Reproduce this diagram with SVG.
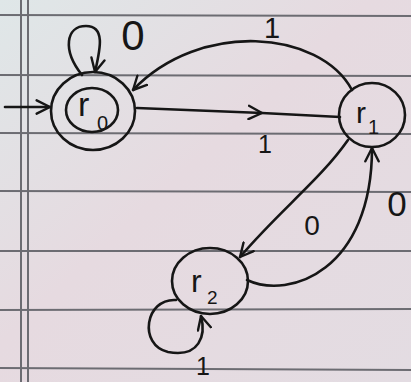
<svg xmlns="http://www.w3.org/2000/svg" width="411" height="382" viewBox="0 0 411 382">
<defs>
<linearGradient id="paper" x1="0" y1="0" x2="1" y2="1">
<stop offset="0" stop-color="#dfe7e8"/>
<stop offset="0.45" stop-color="#e6dae0"/>
<stop offset="1" stop-color="#e3dce2"/>
</linearGradient>
<marker id="v" viewBox="0 0 12 12" refX="11" refY="6" markerWidth="16" markerHeight="16" markerUnits="userSpaceOnUse" orient="auto">
<path d="M1,1 L11,6 L1,11" fill="none" stroke="#161616" stroke-width="1.8" stroke-linecap="round" stroke-linejoin="round"/>
</marker>
</defs>
<style>
.rule{stroke:#6c6c72;stroke-width:2;fill:none}
.edge{stroke:#161616;stroke-width:2.6;fill:none;stroke-linecap:round}
.ring{stroke:#161616;stroke-width:2.6;fill:none}
.lbl{font-family:"Liberation Sans","DejaVu Sans",sans-serif;fill:#161616;text-anchor:middle}
.nm{font-family:"Liberation Sans","DejaVu Sans",sans-serif;fill:#161616}
</style>
<rect width="411" height="382" fill="url(#paper)"/>
<g id="paper-lines">
<line class="rule" x1="0" y1="15" x2="411" y2="16"/>
<line class="rule" x1="0" y1="75" x2="411" y2="76"/>
<line class="rule" x1="0" y1="133" x2="411" y2="134"/>
<line class="rule" x1="0" y1="191" x2="411" y2="192"/>
<line class="rule" x1="0" y1="251" x2="411" y2="251"/>
<line class="rule" x1="0" y1="310" x2="411" y2="309"/>
<line class="rule" x1="0" y1="368" x2="411" y2="370"/>
<line class="rule" x1="21" y1="0" x2="21" y2="382"/>
<line class="rule" x1="28" y1="0" x2="28" y2="382"/>
</g>
<g id="connectors">
<path class="edge" d="M5,107 L50,107" marker-end="url(#v)"/>
<path class="edge" d="M82,75 C62,50 66,26 86,26 C106,26 100,50 95,72" marker-end="url(#v)"/>
<path class="edge" d="M352,90 C320,30 200,20 133,90" marker-end="url(#v)"/>
<path class="edge" d="M137,108 L262,113 L340,117" marker-mid="url(#v)"/>
<path class="edge" d="M348,140 C320,180 280,210 240,257" marker-end="url(#v)"/>
<path class="edge" d="M247,280 C290,300 372,270 372,148" marker-end="url(#v)"/>
<path class="edge" d="M176,300 C145,298 138,345 168,352 C200,358 206,335 201,316" marker-end="url(#v)"/>
</g>
<g id="r0">
<ellipse class="ring" cx="93" cy="111" rx="42" ry="39"/>
<ellipse class="ring" cx="92" cy="110" rx="26" ry="22"/>
<text class="nm" x="78" y="116" font-size="34">r</text>
<text class="nm" x="97" y="130" font-size="20">0</text>
</g>
<g id="r1">
<ellipse class="ring" cx="372" cy="115" rx="33" ry="32"/>
<text class="nm" x="356" y="123" font-size="30">r</text>
<text class="nm" x="368" y="134" font-size="20">1</text>
</g>
<g id="r2">
<ellipse class="ring" cx="210" cy="281" rx="38" ry="33"/>
<text class="nm" x="191" y="292" font-size="32">r</text>
<text class="nm" x="207" y="304" font-size="19">2</text>
</g>
<g id="labels">
<text class="lbl" x="133" y="50" font-size="42">0</text>
<text class="lbl" x="272" y="38" font-size="29">1</text>
<text class="lbl" x="265" y="153" font-size="25">1</text>
<text class="lbl" x="312" y="235" font-size="28">0</text>
<text class="lbl" x="397" y="216" font-size="35">0</text>
<text class="lbl" x="203" y="375" font-size="25">1</text>
</g>
</svg>
